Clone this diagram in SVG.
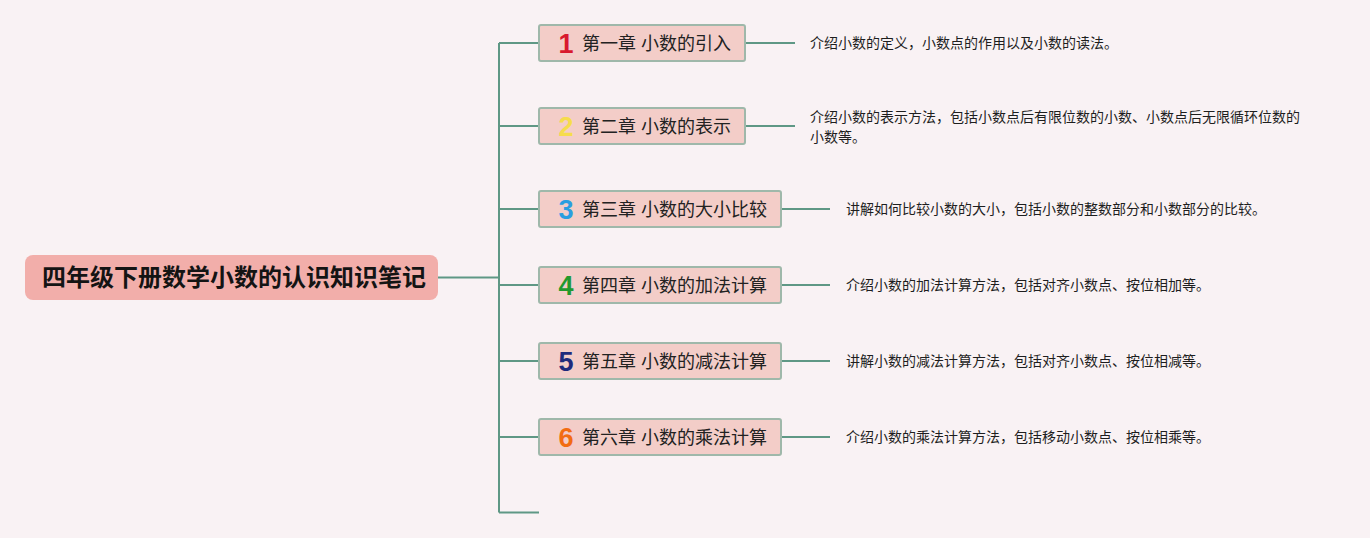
<svg xmlns="http://www.w3.org/2000/svg" width="1370" height="538" viewBox="0 0 1370 538">
<style>
.conn{stroke:#5f9885;stroke-width:2;fill:none}
.chap rect{fill:#f3cdc8;stroke:#9fb8aa;stroke-width:2}
.ct{font-family:"Liberation Sans","Noto Sans CJK SC",sans-serif;font-size:18px;fill:#222}
.num{font-family:"Liberation Sans",sans-serif;font-size:27px;font-weight:bold;text-anchor:middle}
.desc{font-family:"Liberation Sans","Noto Sans CJK SC",sans-serif;font-size:14px;fill:#1e1e1e}
.root rect{fill:#f2aeaa}
.rt{font-family:"Liberation Sans","Noto Sans CJK SC",sans-serif;font-size:24px;font-weight:bold;fill:#141414}
</style>
<rect width="1370" height="538" fill="#f9f2f4"/>
<g id="connectors">
<path class="conn" d="M438 277.5H499"/>
<path class="conn" d="M499 43V512.5"/>
<path class="conn" d="M499 43H539M499 126H539M499 209H539M499 285H539M499 361H539M499 437H539M499 512.5H539"/>
<path class="conn" d="M745 43H795M745 126H795M781 209H830M781 285H830M781 361H830M781 437H830"/>
</g>
<g id="root" class="root">
<rect x="25" y="255" width="413" height="45" rx="8"/>
<text class="rt" x="42" y="286">四年级下册数学小数的认识知识笔记</text>
</g>
<g id="ch1" class="chap">
<rect x="539" y="25" width="206" height="36" rx="2"/>
<text class="num" x="566" y="53" fill="#d8192e">1</text>
<text class="ct" x="582" y="49.5">第一章 小数的引入</text>
</g>
<g id="ch2" class="chap">
<rect x="539" y="108" width="206" height="36" rx="2"/>
<text class="num" x="566" y="136" fill="#f6dc4c">2</text>
<text class="ct" x="582" y="132.5">第二章 小数的表示</text>
</g>
<g id="ch3" class="chap">
<rect x="539" y="191" width="242" height="36" rx="2"/>
<text class="num" x="566" y="219" fill="#2a9ee0">3</text>
<text class="ct" x="582" y="215.5">第三章 小数的大小比较</text>
</g>
<g id="ch4" class="chap">
<rect x="539" y="267" width="242" height="36" rx="2"/>
<text class="num" x="566" y="295" fill="#22992e">4</text>
<text class="ct" x="582" y="291.5">第四章 小数的加法计算</text>
</g>
<g id="ch5" class="chap">
<rect x="539" y="343" width="242" height="36" rx="2"/>
<text class="num" x="566" y="371" fill="#1e2a7c">5</text>
<text class="ct" x="582" y="367.5">第五章 小数的减法计算</text>
</g>
<g id="ch6" class="chap">
<rect x="539" y="419" width="242" height="36" rx="2"/>
<text class="num" x="566" y="447" fill="#f26c12">6</text>
<text class="ct" x="582" y="443.5">第六章 小数的乘法计算</text>
</g>
<g id="d1"><text class="desc" x="810" y="48">介绍小数的定义，小数点的作用以及小数的读法。</text></g>
<g id="d2"><text class="desc" x="810" y="122">介绍小数的表示方法，包括小数点后有限位数的小数、小数点后无限循环位数的</text><text class="desc" x="810" y="142">小数等。</text></g>
<g id="d3"><text class="desc" x="846" y="214">讲解如何比较小数的大小，包括小数的整数部分和小数部分的比较。</text></g>
<g id="d4"><text class="desc" x="846" y="290">介绍小数的加法计算方法，包括对齐小数点、按位相加等。</text></g>
<g id="d5"><text class="desc" x="846" y="366">讲解小数的减法计算方法，包括对齐小数点、按位相减等。</text></g>
<g id="d6"><text class="desc" x="846" y="442">介绍小数的乘法计算方法，包括移动小数点、按位相乘等。</text></g>
</svg>
